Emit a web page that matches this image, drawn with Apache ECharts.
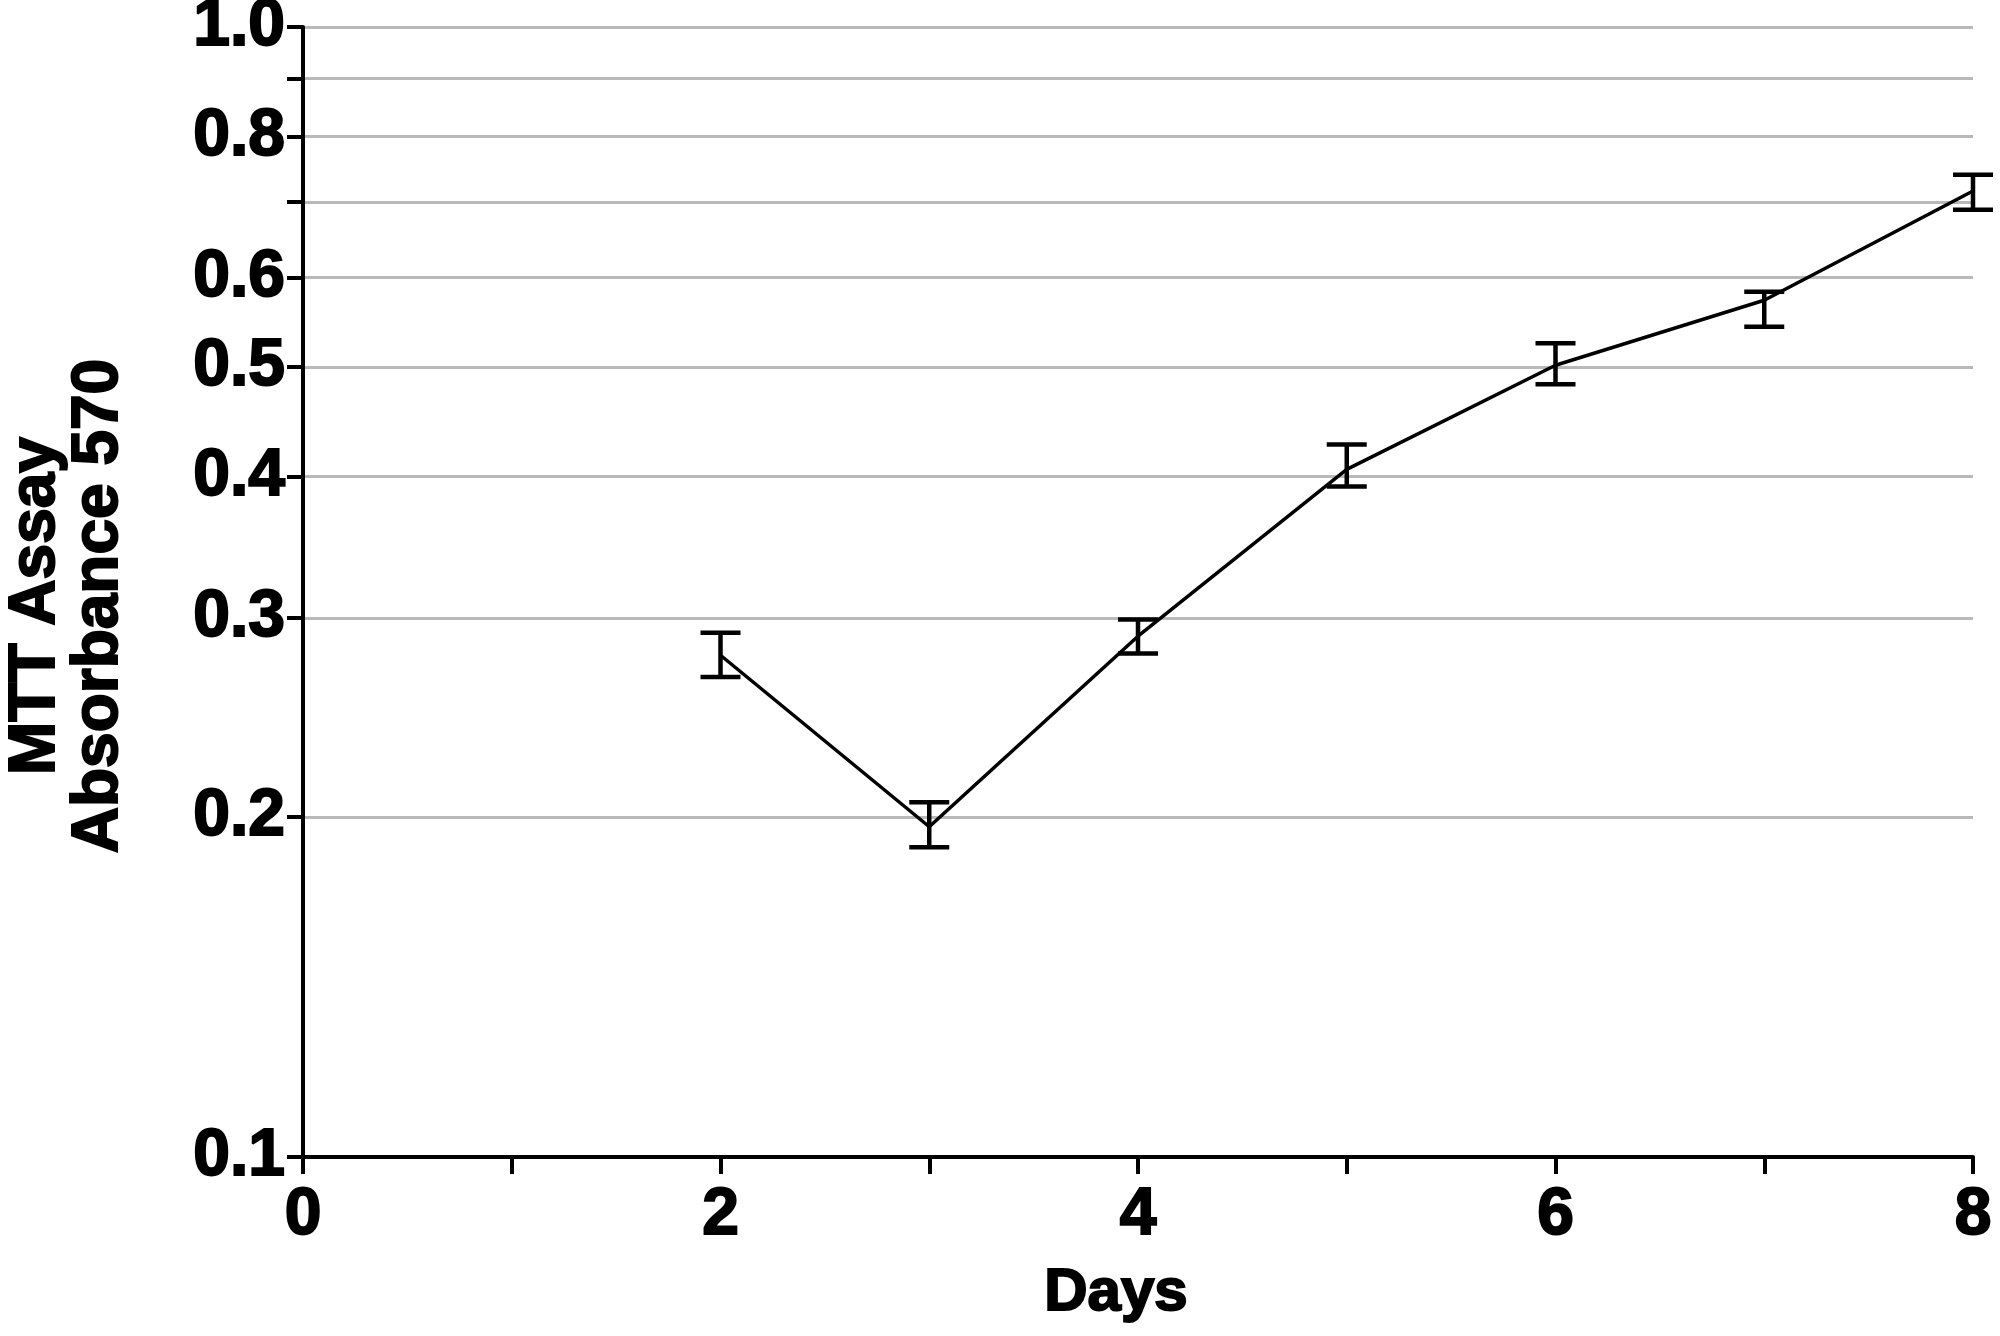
<!DOCTYPE html>
<html>
<head>
<meta charset="UTF-8">
<style>
    html, body { margin: 0; padding: 0; background: #fff; }
    #chart { width: 2000px; height: 1336px; }
</style>
</head>
<body>
<div id="chart"></div>
<script src="https://cdn.jsdelivr.net/npm/echarts@6/dist/echarts.min.js"></script>
<script type="text/javascript">
    // values (log y axis)
    var days = [2, 3, 4, 5, 6, 7, 8];
    var meanAbs = [0.278, 0.196, 0.289, 0.406, 0.502, 0.573, 0.716];
    var upperAbs = [0.291, 0.206, 0.299, 0.427, 0.525, 0.583, 0.740];
    var lowerAbs = [0.266, 0.188, 0.279, 0.392, 0.483, 0.543, 0.689];

    var yTicks = [0.1, 0.2, 0.3, 0.4, 0.5, 0.6, 0.7, 0.8, 0.9, 1.0];
    var yLabels = [0.1, 0.2, 0.3, 0.4, 0.5, 0.6, 0.8, 1.0];
    var xLabels = [0, 2, 4, 6, 8];

    var font = '"Liberation Sans", Arial, Helvetica, sans-serif';

    function lg(v) { return Math.log10(v); }

    var lineData = [];
    var barData = [];
    for (var i = 0; i < days.length; i++) {
        lineData.push([days[i], lg(meanAbs[i])]);
        barData.push([days[i], lg(upperAbs[i]), lg(lowerAbs[i])]);
    }

    function renderErrorBar(params, api) {
        var top = api.coord([api.value(0), api.value(1)]);
        var bot = api.coord([api.value(0), api.value(2)]);
        var half = 20;
        var st = { stroke: '#000', lineWidth: 4.5 };
        return {
            type: 'group',
            children: [
                { type: 'line', shape: { x1: top[0], y1: top[1], x2: bot[0], y2: bot[1] }, style: st },
                { type: 'line', shape: { x1: top[0] - half, y1: top[1], x2: top[0] + half, y2: top[1] }, style: st },
                { type: 'line', shape: { x1: bot[0] - half, y1: bot[1], x2: bot[0] + half, y2: bot[1] }, style: st }
            ]
        };
    }

    // heavier glyphs, closer to the bold face of the original
    var heavy = { textBorderColor: '#000', textBorderWidth: 2 };

    var chart = echarts.init(document.getElementById('chart'));
    var option = {
        backgroundColor: '#fff',
        animation: false,
        grid: { left: 303, right: 27, top: 27, bottom: 179, containLabel: false, outerBoundsMode: 'none' },
        xAxis: {
            type: 'value',
            min: 0, max: 8, interval: 1,
            name: 'Days',
            nameLocation: 'middle',
            nameGap: 106,
            nameTextStyle: echarts.util.extend({ fontFamily: font, fontWeight: 'bold', fontSize: 60, color: '#000', padding: [0, 44, 0, 0] }, heavy),
            axisLine: { onZero: false, lineStyle: { color: '#000', width: 4 } },
            axisTick: { length: 17, lineStyle: { color: '#000', width: 4 } },
            axisLabel: echarts.util.extend({
                customValues: xLabels,
                margin: 26,
                fontFamily: font, fontWeight: 'bold', fontSize: 66, color: '#000'
            }, heavy),
            splitLine: { show: false }
        },
        yAxis: {
            type: 'value',
            min: -1, max: 0,
            name: 'MTT Assay\nAbsorbance 570',
            nameLocation: 'middle',
            nameRotate: 90,
            nameGap: 172,
            nameTextStyle: echarts.util.extend({ fontFamily: font, fontWeight: 'bold', fontSize: 64, color: '#000', lineHeight: 63, align: 'center', padding: [0, 28, 0, 0] }, heavy),
            axisLine: { onZero: false, lineStyle: { color: '#000', width: 4 } },
            axisTick: { customValues: yTicks.map(lg), length: 16, lineStyle: { color: '#000', width: 4 } },
            axisLabel: echarts.util.extend({
                customValues: yLabels.map(lg),
                margin: 18,
                fontFamily: font, fontWeight: 'bold', fontSize: 66, color: '#000',
                padding: [12, 0, 0, 0],
                formatter: function (v) { return Math.pow(10, v).toFixed(1); }
            }, heavy),
            splitLine: { show: true, lineStyle: { color: '#b9b9b9', width: 3 } }
        },
        series: [
            {
                type: 'line',
                data: lineData,
                showSymbol: false,
                symbol: 'none',
                lineStyle: { color: '#000', width: 3.5 },
                z: 3
            },
            {
                type: 'custom',
                data: barData,
                renderItem: renderErrorBar,
                z: 4
            }
        ]
    };
    chart.setOption(option);
</script>
</body>
</html>
